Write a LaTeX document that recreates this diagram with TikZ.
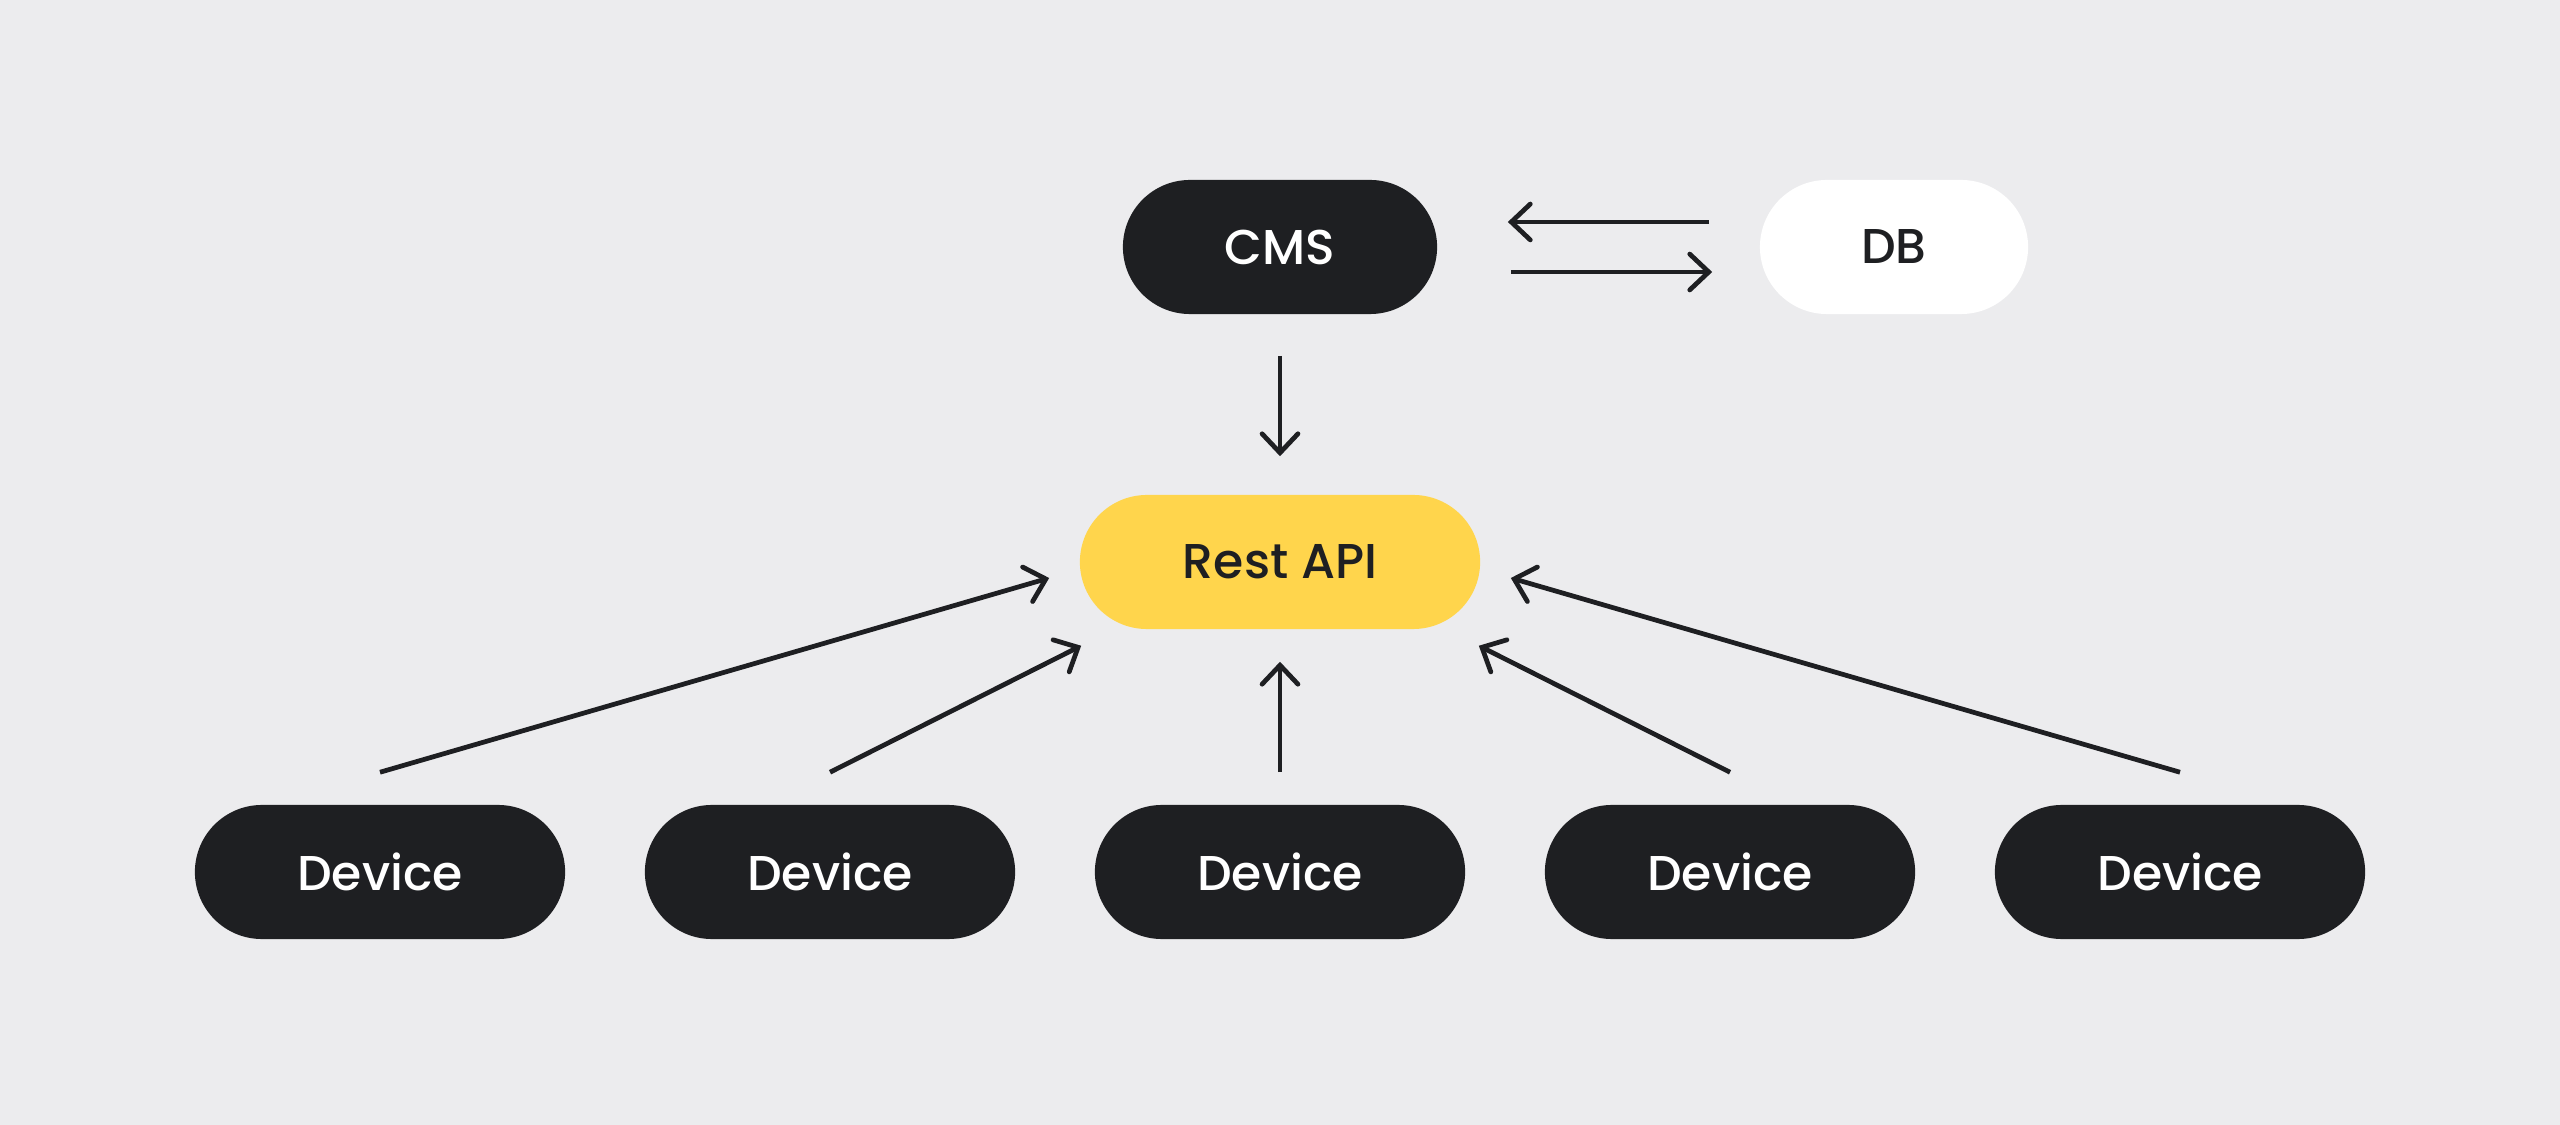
\documentclass[tikz,border=0pt]{standalone}
\usepackage{fontspec}
\setmainfont{Poppins}[UprightFont={* Medium}]
\usepackage{xcolor}
\usepackage{tikz}
\usetikzlibrary{arrows.meta}
\definecolor{bgcol}{RGB}{236,236,238}
\definecolor{inkcol}{RGB}{30,31,34}
\definecolor{apicol}{RGB}{255,213,76}

\begin{document}
\begin{tikzpicture}[x=0.01cm,y=-0.01cm,
    pill/.style={rectangle,rounded corners=0.67cm,minimum height=1.34cm,inner sep=0pt,
        font=\fontsize{13.9}{16}\selectfont},
    darkpill/.style={pill,fill=inkcol,text=white},
    flow/.style={-{Straight Barb[length=5.4pt,width=10.2pt,line cap=round]},line width=1.35pt,inkcol}]
            \fill[bgcol] (0,0) rectangle (2560,1125);
            \useasboundingbox (0,0) rectangle (2560,1125);
            \node[darkpill,minimum width=3.14cm] (cms) at (1280,247) {CMS};
            \node[pill,fill=white,text=inkcol,minimum width=2.68cm] (db) at (1894,247) {DB};
            \node[pill,fill=apicol,text=inkcol,minimum width=4cm] (rest) at (1280,562) {Rest API};
            \node[darkpill,minimum width=3.7cm] (dev1) at (380,872) {Device};
            \node[darkpill,minimum width=3.7cm] (dev2) at (830,872) {Device};
            \node[darkpill,minimum width=3.7cm] (dev3) at (1280,872) {Device};
            \node[darkpill,minimum width=3.7cm] (dev4) at (1730,872) {Device};
            \node[darkpill,minimum width=3.7cm] (dev5) at (2180,872) {Device};
            \draw[flow] ([xshift=-0.5cm,yshift=0.25cm]db.west) -- ([xshift=0.7cm,yshift=0.25cm]cms.east);
            \draw[flow] ([xshift=0.73cm,yshift=-0.25cm]cms.east) -- ([xshift=-0.47cm,yshift=-0.25cm]db.west);
            \draw[flow] ([yshift=-0.41cm]cms.south) -- ([yshift=0.38cm]rest.north);
            \draw[flow] ([yshift=0.32cm]dev1.north) -- ([xshift=-0.3cm,yshift=-0.16cm]rest.west);
            \draw[flow] ([yshift=0.32cm]dev2.north) -- ([xshift=0.02cm,yshift=-0.16cm]rest.south west);
            \draw[flow] ([yshift=0.32cm]dev3.north) -- ([yshift=-0.32cm]rest.south);
            \draw[flow] ([yshift=0.32cm]dev4.north) -- ([xshift=-0.02cm,yshift=-0.16cm]rest.south east);
            \draw[flow] ([yshift=0.32cm]dev5.north) -- ([xshift=0.3cm,yshift=-0.16cm]rest.east);
          \end{tikzpicture}
\end{document}
